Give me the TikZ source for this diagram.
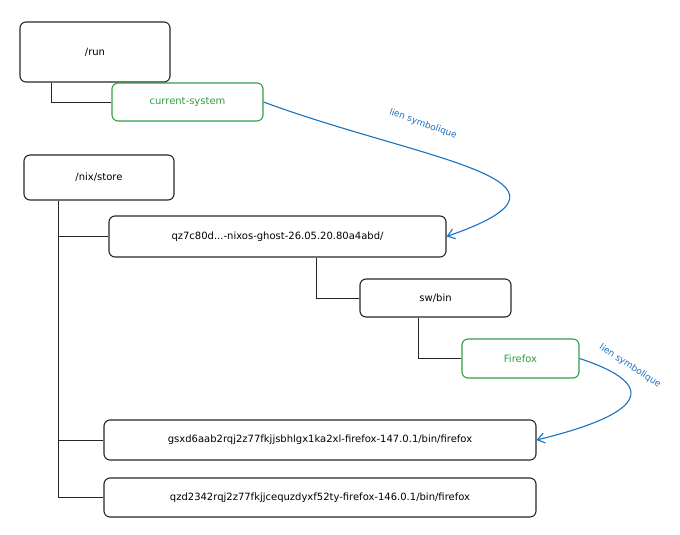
\documentclass[tikz,border=0pt]{standalone}
\usepackage{fontspec}
\setmainfont{DejaVu Sans}
\usetikzlibrary{arrows.meta}
\definecolor{eg}{HTML}{2F9E44}
\definecolor{eb}{HTML}{1971C2}
\begin{document}
\begin{tikzpicture}[x=1pt,y=-1pt,
  box/.style={draw=black!85,line width=1.1pt,rounded corners=6pt,font=\fontsize{10}{12}\selectfont,inner sep=0pt},
  gbox/.style={box,draw=eg,text=eg},
  tree/.style={draw=black!85,line width=0.9pt},
  link/.style={draw=eb,line width=1.1pt,-{Straight Barb[length=7pt,width=10pt]}},
  lab/.style={text=eb,font=\fontsize{9}{11}\selectfont}]
\useasboundingbox (0,0) rectangle (680,535);
\node[box,minimum width=150pt,minimum height=60pt] (run) at (95,52) {/run};
\node[gbox,minimum width=151pt,minimum height=38pt] (cs) at (187.5,102) {current-system};
\node[box,minimum width=150pt,minimum height=45pt] (store) at (99,177.5) {/nix/store};
\node[box,minimum width=337pt,minimum height=41pt] (qz) at (277.5,236.5) {qz7c80d...-nixos-ghost-26.05.20.80a4abd/};
\node[box,minimum width=151pt,minimum height=38pt] (sw) at (435.5,298) {sw/bin};
\node[gbox,minimum width=117pt,minimum height=39pt] (ff) at (520.5,358.5) {Firefox};
\node[box,minimum width=432pt,minimum height=40pt] (gs) at (320,440) {gsxd6aab2rqj2z77fkjjsbhlgx1ka2xl-firefox-147.0.1/bin/firefox};
\node[box,minimum width=432pt,minimum height=39pt] (qzd) at (320,497.5) {qzd2342rqj2z77fkjjcequzdyxf52ty-firefox-146.0.1/bin/firefox};
\draw[tree] (run.south -| 51,0) |- (cs.west);
\draw[tree] (store.south -| 58,0) |- (qzd.west);
\draw[tree] (58,236.5) -- (qz.west);
\draw[tree] (58,440) -- (gs.west);
\draw[tree] (qz.south -| 316,0) |- (sw.west);
\draw[tree] (sw.south -| 418,0) |- (ff.west);
\draw[link] (cs.east) .. controls (420,160) and (610,180) .. (qz.east);
\draw[link] (ff.east) .. controls (630,375) and (680,405) .. (gs.east);
\node[lab,rotate=-33] (l2) at (630,366) {lien symbolique};
\node[lab,rotate=-20] (l1) at (423,124) {lien symbolique};
\end{tikzpicture}
\end{document}
